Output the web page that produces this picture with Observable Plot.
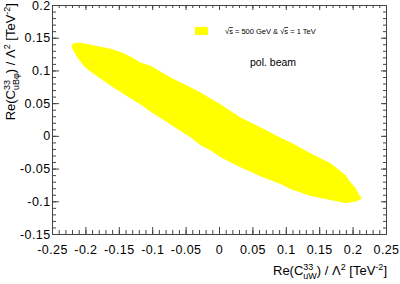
<!DOCTYPE html>
<html><head><meta charset="utf-8">
<script src="https://cdn.jsdelivr.net/npm/d3@7"></script>
<script src="https://cdn.jsdelivr.net/npm/@observablehq/plot@0.6"></script>
<style>body{margin:0;background:#fff;} svg{display:block}</style>
</head><body><div id="chart"></div>
<script>
// Upper boundary of the allowed region (left tip -> right tip)
const topX = [-0.2216, -0.2156, -0.2081, -0.1931, -0.1781, -0.1632, -0.1482, -0.1332, -0.1183, -0.1033, -0.0734, -0.0434, -0.0284, -0.0135, 0.0015, 0.0314, 0.0614, 0.0913, 0.1063, 0.1362, 0.1662, 0.1811, 0.1886, 0.1961, 0.2036, 0.2111, 0.2141];
const topY = [0.140, 0.143, 0.143, 0.140, 0.137, 0.134, 0.129, 0.122, 0.113, 0.108, 0.090, 0.075, 0.067, 0.058, 0.049, 0.029, 0.014, -0.002, -0.009, -0.026, -0.041, -0.053, -0.059, -0.070, -0.079, -0.093, -0.094];
// Lower boundary (left -> right)
const lowX = [-0.2201, -0.2126, -0.2006, -0.1886, -0.1737, -0.1587, -0.1377, -0.1183, -0.1033, -0.0734, -0.0434, -0.0284, -0.0135, 0.0015, 0.0314, 0.0614, 0.0913, 0.1063, 0.1362, 0.1662, 0.1886, 0.1961, 0.2066];
const lowY = [0.1337, 0.1201, 0.1049, 0.0957, 0.0851, 0.0745, 0.0608, 0.0486, 0.0380, 0.0182, -0.0015, -0.0137, -0.0213, -0.0319, -0.0471, -0.0608, -0.0729, -0.0805, -0.0912, -0.0973, -0.1018, -0.1011, -0.0988];

const xTicks = [-0.25, -0.2, -0.15, -0.1, -0.05, 0, 0.05, 0.1, 0.15, 0.2, 0.25];
const xTickLabels = ["-0.25", "-0.2", "-0.15", "-0.1", "-0.05", "0", "0.05", "0.1", "0.15", "0.2", "0.25"];
const yTicks = [-0.15, -0.1, -0.05, 0, 0.05, 0.1, 0.15, 0.2];
const yTickLabels = ["-0.15", "-0.1", "-0.05", "0", "0.05", "0.1", "0.15", "0.2"];
const xMinor = d3.range(-25, 26).map(k => k / 100);
const yMinor = d3.range(-15, 21).map(k => k / 100);

const legendLabel = ["√", "s", " = 500 GeV & ", "√", "s", " = 1 TeV"];
const noteLabel = "pol. beam";

const polygon = [
  ...topX.map((x, i) => ({x, y: topY[i]})),
  ...lowX.map((x, i) => ({x, y: lowY[i]})).reverse(),
  {x: topX[0], y: topY[0]}
];

const W = 400, H = 284, mL = 52, mR = 14, mT = 5, mB = 50;
const fw = W - mL - mR, fh = H - mT - mB;
const ink = "#444";
const xl = new Map(xTicks.map((t, i) => [t, xTickLabels[i]]));
const yl = new Map(yTicks.map((t, i) => [t, yTickLabels[i]]));

const svgEl = Plot.plot({
  width: W, height: H,
  marginLeft: mL, marginRight: mR, marginTop: mT, marginBottom: mB,
  style: {fontFamily: "'Liberation Sans', Arial, sans-serif", fontSize: "12.5px", color: "#000", background: "#fff", letterSpacing: "0.4px", overflow: "visible"},
  x: {domain: [-0.25, 0.25], ticks: xTicks, tickSize: 0, tickPadding: 11, tickFormat: d => xl.get(d), label: null},
  y: {domain: [-0.15, 0.2], ticks: yTicks, tickSize: 0, tickPadding: 2, tickFormat: d => yl.get(d), label: null},
  marks: [
    Plot.line(polygon, {x: "x", y: "y", fill: "#ffff00", stroke: "none", curve: "linear"}),
    Plot.tickX(xMinor, {x: d => d, insetTop: fh - 4, stroke: ink}),
    Plot.tickX(xTicks, {x: d => d, insetTop: fh - 7, stroke: ink}),
    Plot.tickX(xMinor, {x: d => d, insetBottom: fh - 3, stroke: ink}),
    Plot.tickX(xTicks, {x: d => d, insetBottom: fh - 5, stroke: ink}),
    Plot.tickY(yMinor, {y: d => d, insetRight: fw - 4, stroke: ink}),
    Plot.tickY(yTicks, {y: d => d, insetRight: fw - 7, stroke: ink}),
    Plot.tickY(yMinor, {y: d => d, insetLeft: fw - 3, stroke: ink}),
    Plot.tickY(yTicks, {y: d => d, insetLeft: fw - 5, stroke: ink}),
    Plot.frame({stroke: ink})
  ]
});
document.getElementById("chart").appendChild(svgEl);

const svg = d3.select(svgEl);
const ff = "'Liberation Sans', Arial, sans-serif";

// legend
svg.append("rect").attr("x", 195).attr("y", 27).attr("width", 13).attr("height", 8).attr("fill", "#ffff00");
const lg = svg.append("text").attr("x", 225).attr("y", 34).attr("text-anchor", "start")
  .attr("font-size", 7.5).attr("font-family", ff).attr("fill", "#000").style("letter-spacing", "0px");
legendLabel.forEach(s => {
  const t = lg.append("tspan").text(s);
  if (s === "s") t.style("text-decoration", "overline");
});
svg.append("text").attr("x", 250).attr("y", 66).attr("text-anchor", "start")
  .attr("font-size", 10.5).attr("font-family", ff).attr("fill", "#000").style("letter-spacing", "0px").text(noteLabel);

function title(sel, sub) {
  sel.append("tspan").text("Re(C");
  sel.append("tspan").attr("font-size", 9).attr("dy", -5).text("33");
  sel.append("tspan").attr("font-size", 9).attr("dx", -10).attr("dy", 8.5).text(sub);
  sel.append("tspan").attr("dy", -3.5).text(") / Λ");
  sel.append("tspan").attr("font-size", 9).attr("dy", -5).text("2");
  sel.append("tspan").attr("dy", 5).text(" [TeV");
  sel.append("tspan").attr("font-size", 9).attr("dy", -5).text("-2");
  sel.append("tspan").attr("dy", 5).text("]");
}
const xt = svg.append("text").attr("x", 387).attr("y", 275).attr("text-anchor", "end")
  .attr("font-size", 13).attr("font-family", ff).attr("fill", "#000").style("letter-spacing", "0px");
title(xt, "uW");
const yt = svg.append("text").attr("transform", "translate(15,3) rotate(-90)").attr("text-anchor", "end")
  .attr("font-size", 13).attr("font-family", ff).attr("fill", "#000").style("letter-spacing", "0px");
title(yt, "uBφ");
</script>
</body></html>
